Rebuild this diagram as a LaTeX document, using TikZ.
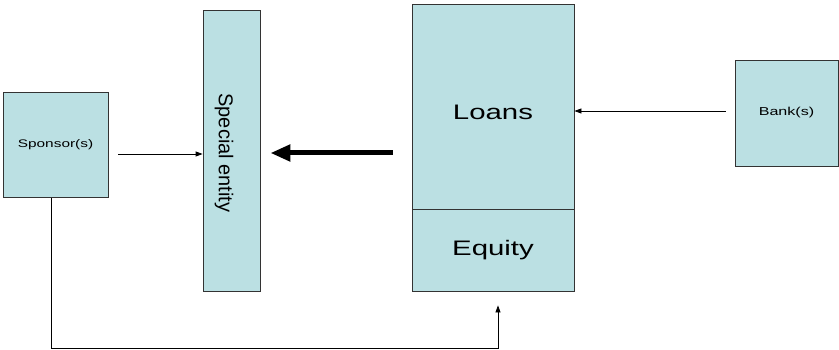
\documentclass[tikz,border=0pt]{standalone}
\usepackage{fontspec}
\setmainfont{Liberation Sans}
\usepackage{graphicx}
\usepackage{xcolor}
\usetikzlibrary{arrows.meta}
\definecolor{boxfill}{HTML}{BBE0E3}
\newcommand{\widetxt}[1]{\scalebox{1.4}[1]{#1}}

\begin{document}
\begin{tikzpicture}[
            x = 1pt, y = -1pt,
            > = {Triangle[length=7pt, width=5pt]},
            semithick
        ]

        \tikzstyle{box}=[
            draw = black!80,
            fill = boxfill,
            thick,
            inner sep = 0pt
        ]
        \tikzstyle{thin arrow}=[->, line width=0.8pt]
        \tikzstyle{fat arrow}=[-{Triangle[length=20pt, width=16pt]}, line width=5pt]

        \useasboundingbox (0,0) rectangle (839,350);

        \node[box, minimum width=105pt, minimum height=105pt, font=\fontsize{11}{13}\selectfont] (spons) at (55.5,145) {\widetxt{Sponsor(s)}};
        \node[box, minimum width=57pt, minimum height=281pt] (spec) at (231.5,150.5) {};
        \node[rotate=-90, font=\fontsize{20}{22}\selectfont, inner sep=0pt] (spectext) at (224,153) {Special entity};
        \node[box, minimum width=162pt, minimum height=205pt,
              label={[font=\fontsize{21}{24}\selectfont, yshift=-6pt]center:\widetxt{Loans}}] (loans) at (493,106.5) {};
        \node[box, minimum width=162pt, minimum height=82pt, font=\fontsize{21}{24}\selectfont] (equity) at (493,250) {\widetxt{Equity}};
        \node[box, minimum width=103pt, minimum height=106pt, font=\fontsize{11.5}{13}\selectfont] (bank) at (786.5,113) {\widetxt{Bank(s)}};

        % money flows
        \draw[thin arrow, shorten <=10pt] ([yshift=-9pt]spons.east) -- ([yshift=-9pt]spons.east -| spec.west);
        \draw[fat arrow, shorten <=19pt, shorten >=10pt] ([yshift=-2.5pt]loans.west |- spec.center) -- ([yshift=-2.5pt]spec.east);
        \draw[thin arrow, shorten <=9pt] ([yshift=2pt]bank.west) -- ([yshift=2pt]bank.west -| loans.east);
        \draw[thin arrow, shorten >=14pt] ([xshift=-4.5pt]spons.south) -- ++(0,150) -| ([xshift=5pt]equity.south);
    \end{tikzpicture}
\end{document}
